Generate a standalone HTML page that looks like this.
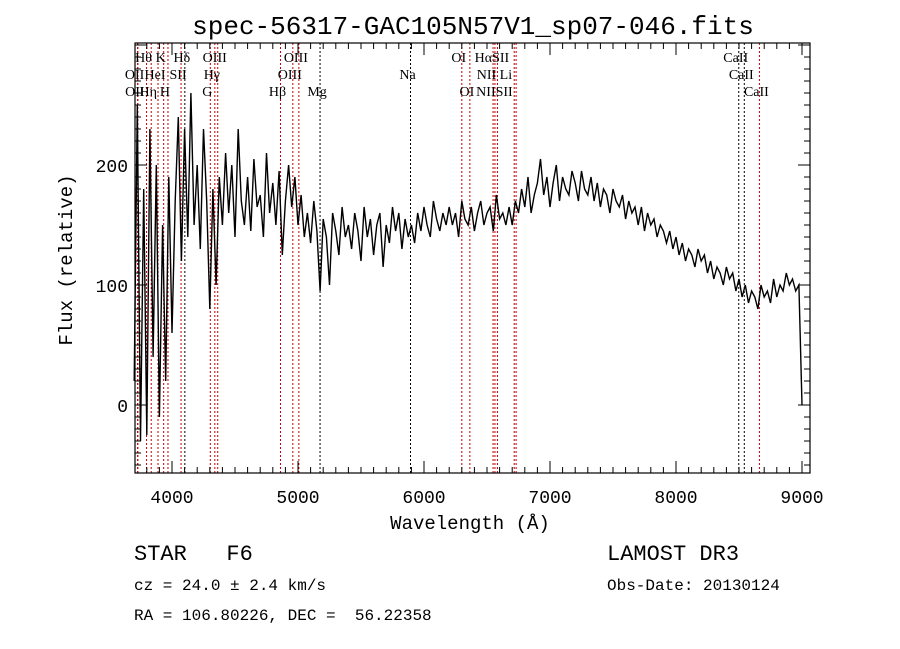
<!DOCTYPE html>
<html><head><meta charset="utf-8">
<style>
body{margin:0;background:#fff;width:900px;height:649px;overflow:hidden}
svg{display:block}
.mono{font-family:"Liberation Mono","DejaVu Sans Mono",monospace}
.ser{font-family:"Liberation Serif",serif;font-size:14px}
</style></head>
<body>
<svg id="chart" width="900" height="649" viewBox="0 0 900 649" xmlns="http://www.w3.org/2000/svg">
<text class="mono" x="473" y="34" font-size="26" text-anchor="middle">spec-56317-GAC105N57V1_sp07-046.fits</text>
<g id="lines"></g>
<g id="spec"></g>
<g id="axes"></g>
<text class="mono" x="470" y="529" font-size="19" text-anchor="middle">Wavelength (Å)</text>
<text class="mono" x="0" y="0" font-size="19" text-anchor="middle" transform="translate(72,260) rotate(-90)">Flux (relative)</text>
<text class="mono" x="134" y="560" font-size="22" xml:space="preserve">STAR   F6</text>
<text class="mono" x="134" y="590" font-size="16">cz = 24.0 ± 2.4 km/s</text>
<text class="mono" x="134" y="620" font-size="16" xml:space="preserve">RA = 106.80226, DEC =  56.22358</text>
<text class="mono" x="607" y="560" font-size="22">LAMOST DR3</text>
<text class="mono" x="607" y="590" font-size="16">Obs-Date: 20130124</text>
</svg>
<script>
const wlStart = 3700, wlStep = 25;
const flux = [20,250,-30,180,-25,230,40,200,-10,150,
20,190,60,170,240,120,230,140,260,150,
200,130,230,170,80,180,100,190,150,210,
160,200,140,230,170,150,190,145,205,165,
175,140,210,160,185,150,195,125,170,200,
165,190,150,175,140,160,135,170,145,95,
155,140,100,160,145,125,165,140,150,130,
160,145,120,165,140,155,125,150,160,115,
150,135,165,145,160,130,155,140,150,135,
160,145,165,150,140,170,155,145,160,150,
165,150,160,140,170,155,150,165,145,160,
170,150,160,165,145,175,155,160,150,165,
150,170,160,180,165,190,160,175,185,205,
175,190,165,185,200,170,190,180,175,195,
185,170,195,180,175,190,170,185,165,180,
175,160,180,170,165,175,155,170,160,165,
150,165,145,160,150,155,140,150,145,135,
145,130,140,125,135,120,130,125,115,130,
120,125,110,120,105,115,110,100,115,105,
110,95,105,90,100,85,95,90,80,100,
90,95,85,105,90,100,95,110,100,105,
95,100,0];
const lineNames = ["Hθ","K","Hδ","OIII","OIII","OI","HαSII","CaII",
"OII","HeI","SII","Hγ","OIII","Na","NII Li","CaII",
"OII","Hη","H","G","Hβ","Mg","OI","NIISII","CaII"];
const lineWaves = [3798,3934,4102,4363,5007,6300,6563,8498,
3727,3889,4072,4340,4959,5893,6583,8542,
3729,3835,3968,4304,4861,5175,6364,6583,8662];
const lineRows = [0,0,0,0,0,0,0,0,1,1,1,1,1,1,1,1,2,2,2,2,2,2,2,2,2];
const extraLines = [6548,6716,6731];
const blackLines = [4102,5893,5175,8498,8542];
const xTicks = [4000,5000,6000,7000,8000,9000];
const yTicks = [0,100,200];

const L=135,R=810,T=43,B=473;
const xs = w => 172 + (w-4000)*0.126;
const ys = f => 405 - f*1.2;
const NS="http://www.w3.org/2000/svg";
function mk(tag, attrs, parent){const e=document.createElementNS(NS,tag);for(const k in attrs)e.setAttribute(k,attrs[k]);parent.appendChild(e);return e;}

const gl=document.getElementById('lines');
const allW=[...new Set(lineWaves.concat(extraLines))];
allW.forEach(w=>{
  const x=xs(w);
  const l=mk('line',{x1:x,x2:x,y1:T,y2:B,stroke:blackLines.includes(w)?'#000':'#c00000','stroke-width':1,'stroke-dasharray':'2,2'},gl);
  
  
});
lineNames.forEach((n,i)=>{
  const t=mk('text',{x:xs(lineWaves[i])-3,y:62+lineRows[i]*17,'text-anchor':'middle',class:'ser'},gl);
  t.textContent=n;
  
  
});

const gs=document.getElementById('spec');
let d='';
flux.forEach((f,i)=>{const x=xs(wlStart+i*wlStep),y=ys(f);d+=(i?'L':'M')+x.toFixed(1)+','+y.toFixed(1);});
const p=mk('path',{d:d,fill:'none',stroke:'#000','stroke-width':1.4},gs);



const ga=document.getElementById('axes');
const box=mk('rect',{x:L,y:T,width:R-L,height:B-T,fill:'none',stroke:'#000','stroke-width':1.2},ga);


let td='';
for(let w=3800;w<=9000;w+=100){const x=xs(w),len=(w%1000===0)?12:6;td+=`M${x},${B}v${-len}M${x},${T}v${len}`;}
for(let f=-50;f<=300;f+=10){const y=ys(f);if(y<T||y>B)continue;const len=(f%100===0)?12:6;td+=`M${L},${y}h${len}M${R},${y}h${-len}`;}
const tk=mk('path',{d:td,stroke:'#000','stroke-width':1},ga);


xTicks.forEach(w=>{
  const t=mk('text',{x:xs(w),y:503,'text-anchor':'middle','font-size':18,class:'mono'},ga);
  t.textContent=w;
  
  
});
yTicks.forEach(f=>{
  const t=mk('text',{x:128,y:ys(f)+7,'text-anchor':'end','font-size':18,class:'mono'},ga);
  t.textContent=f;
  
  
});
</script>
</body></html>
